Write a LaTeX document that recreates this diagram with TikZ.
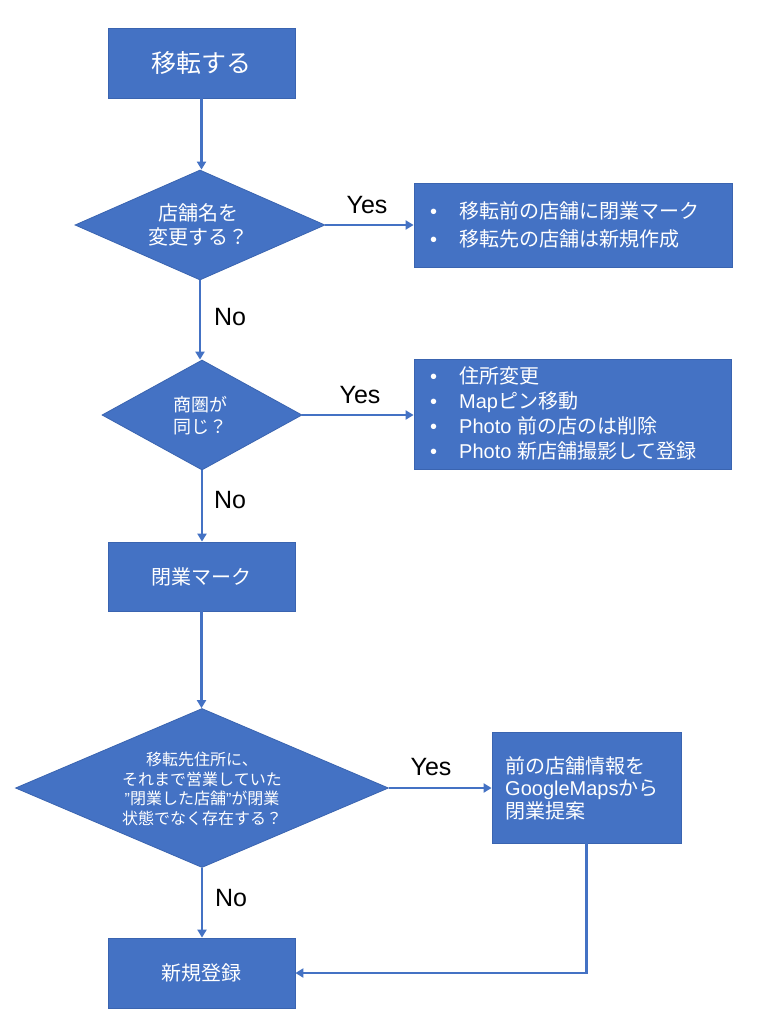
\documentclass[tikz,border=0pt]{standalone}
\usepackage{fontspec}
\setmainfont{Liberation Sans}
\newfontfamily\jp{Noto Sans CJK JP}
\usetikzlibrary{shapes.geometric,arrows.meta}
\definecolor{obox}{HTML}{4472C4}
\definecolor{oedge}{HTML}{3A64B0}
\begin{document}
\begin{tikzpicture}[x=1pt,y=-1pt,
  box/.style={rectangle,fill=obox,draw=oedge,line width=0.8pt,text=white,inner sep=0pt},
  dia/.style={diamond,fill=obox,draw=oedge,line width=0.8pt,inner sep=0pt},
  wtext/.style={text=white,inner sep=0pt},
  arr/.style={draw=obox,line width=2.4pt,-{Triangle[length=8pt,width=9pt]}},
  lbl/.style={text=black,font=\fontsize{25}{30}\selectfont,inner sep=0pt}]
\useasboundingbox[fill=white] (0,0) rectangle (760,1024);

% column boxes
\node[box,minimum width=187pt,minimum height=70pt,font=\jp\fontsize{25}{30}\selectfont] (b1) at (201.5,63) {移転する};

\node[dia,minimum width=250pt,minimum height=110pt] (d1) at (200,225) {};
\node[wtext,align=center,font=\jp\fontsize{20}{24}\selectfont] (t1) at (198,225) {店舗名を\\変更する？};

\node[box,minimum width=318pt,minimum height=84pt] (b2) at (573,225) {};
\node[wtext,anchor=west,align=left,font=\fontsize{20}{28}\selectfont] (t2) at (430,225)
  {\makebox[29pt][l]{•}{\jp 移転前の店舗に閉業マーク}\\\makebox[29pt][l]{•}{\jp 移転先の店舗は新規作成}};

\node[dia,minimum width=200pt,minimum height=110pt] (d2) at (202,415) {};
\node[wtext,align=center,font=\jp\fontsize{18}{22}\selectfont] (t3) at (200,416) {商圏が\\同じ？};

\node[box,minimum width=317pt,minimum height=110pt] (b3) at (572.5,414) {};
\node[wtext,anchor=west,align=left,font=\fontsize{20}{25}\selectfont] (t4) at (430,413)
  {\makebox[29pt][l]{•}{\jp 住所変更}\\
   \makebox[29pt][l]{•}Map{\jp ピン移動}\\
   \makebox[29pt][l]{•}Photo {\jp 前の店のは削除}\\
   \makebox[29pt][l]{•}Photo {\jp 新店舗撮影して登録}};

\node[box,minimum width=187pt,minimum height=69pt,font=\jp\fontsize{20}{24}\selectfont] (b4) at (201.5,576.5) {閉業マーク};

\node[dia,minimum width=373pt,minimum height=159pt] (d3) at (202,788) {};
\node[wtext,align=center,font=\fontsize{16}{19.5}\selectfont] (t5) at (202,789)
  {{\jp 移転先住所に、}\\{\jp それまで営業していた}\\”{\jp 閉業した店舗}”{\jp が閉業}\\{\jp 状態でなく存在する？}};

\node[box,minimum width=189pt,minimum height=111pt] (b5) at (586.5,787.5) {};
\node[wtext,anchor=west,align=left,font=\fontsize{20}{22.5}\selectfont] (t6) at (505,788)
  {{\jp 前の店舗情報を}\\GoogleMaps{\jp から}\\{\jp 閉業提案}};

\node[box,minimum width=187pt,minimum height=70pt,font=\jp\fontsize{20}{24}\selectfont] (b6) at (201.5,973) {新規登録};

% labels
\node[lbl] (y1) at (367,205) {Yes};
\node[lbl] (y2) at (360,395) {Yes};
\node[lbl] (y3) at (431,767) {Yes};
\node[lbl] (n1) at (230,317) {No};
\node[lbl] (n2) at (230,500) {No};
\node[lbl] (n3) at (231,898) {No};

% connectors
\draw[arr] (b1.south) -- (b1.south |- d1.north);
\draw[arr] (d1.east) -- (d1.east -| b2.west);
\draw[arr] (d1.south) -- (d1.south |- d2.north);
\draw[arr] (d2.east) -- (d2.east -| b3.west);
\draw[arr] (d2.south) -- (d2.south |- b4.north);
\draw[arr] (b4.south) -- (b4.south |- d3.north);
\draw[arr] (d3.east) -- (d3.east -| b5.west);
\draw[arr] (d3.south) -- (d3.south |- b6.north);
\draw[arr] (b5.south) |- (b6.east);
\end{tikzpicture}
\end{document}
